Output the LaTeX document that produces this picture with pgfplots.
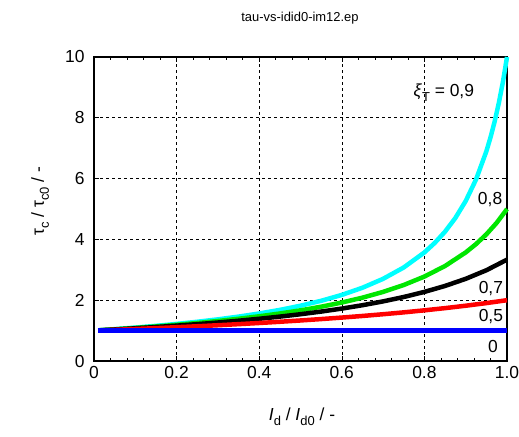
\documentclass[border=0pt]{standalone}
\usepackage{pgfplots}
\pgfplotsset{compat=1.18}
\usepackage{fontspec}
\setmainfont{Liberation Sans}
\definecolor{cy}{RGB}{0,255,255}
\definecolor{gr}{RGB}{0,230,0}
\definecolor{rd}{RGB}{255,0,0}
\definecolor{bl}{RGB}{0,0,255}
\newcommand\sub[1]{\raisebox{-5bp}{\fontsize{13}{13}\selectfont #1}}
\begin{document}
\begin{tikzpicture}[x=1bp,y=1bp]
\begin{axis}[
  at={(0,0)}, anchor=south west,
  scale only axis, width=413bp, height=304bp,
  xmin=0, xmax=1, ymin=0, ymax=10,
  xtick={0,0.2,0.4,0.6,0.8,1.0},
  xticklabels={0,0.2,0.4,0.6,0.8,1.0},
  ytick={0,2,4,6,8,10},
  minor x tick num=4,
  tick align=inside,
  major tick length=5bp, minor tick length=3bp,
  xtick pos=both, ytick pos=both,
  grid=major,
  major grid style={black, dash pattern=on 3bp off 3bp, line width=0.6bp},
  axis line style={line width=1.3bp},
  tick style={black, line width=0.6bp},
  /pgf/number format/assume math mode=true,
  tick label style={font=\fontsize{17.5}{19}\selectfont},
  xticklabel style={yshift=-2bp},
  yticklabel style={xshift=-6bp},
  clip=false,
]
\addplot[cy, line width=4.5bp] coordinates {
(0.01,1.00908)(0.05,1.04712)(0.1,1.0989)(0.15,1.15607)(0.2,1.21951)(0.25,1.29032)(0.3,1.36986)(0.35,1.45985)(0.4,1.5625)(0.45,1.68067)(0.5,1.81818)(0.55,1.9802)(0.6,2.17391)(0.65,2.40964)(0.7,2.7027)(0.75,3.07692)(0.8,3.57143)(0.825,3.8835)(0.85,4.25532)(0.875,4.70588)(0.9,5.26316)(0.925,5.97015)(0.95,6.89655)(0.96,7.35294)(0.97,7.87402)(0.98,8.47458)(0.99,9.17431)(1.0,10)};
\addplot[gr, line width=4.5bp] coordinates {
(0.01,1.00806)(0.05,1.04167)(0.1,1.08696)(0.15,1.13636)(0.2,1.19048)(0.25,1.25)(0.3,1.31579)(0.35,1.38889)(0.4,1.47059)(0.45,1.5625)(0.5,1.66667)(0.55,1.78571)(0.6,1.92308)(0.65,2.08333)(0.7,2.27273)(0.75,2.5)(0.8,2.77778)(0.85,3.125)(0.9,3.57143)(0.925,3.84615)(0.95,4.16667)(0.975,4.54545)(1.0,5)};
\addplot[black, line width=4.5bp] coordinates {
(0.01,1.00705)(0.05,1.03627)(0.1,1.07527)(0.15,1.11732)(0.2,1.16279)(0.25,1.21212)(0.3,1.26582)(0.35,1.3245)(0.4,1.38889)(0.45,1.45985)(0.5,1.53846)(0.55,1.62602)(0.6,1.72414)(0.65,1.83486)(0.7,1.96078)(0.75,2.10526)(0.8,2.27273)(0.85,2.46914)(0.9,2.7027)(0.95,2.98507)(1.0,3.33333)};
\addplot[rd, line width=4.5bp] coordinates {
(0.01,1.00503)(0.05,1.02564)(0.1,1.05263)(0.15,1.08108)(0.2,1.11111)(0.25,1.14286)(0.3,1.17647)(0.35,1.21212)(0.4,1.25)(0.45,1.29032)(0.5,1.33333)(0.55,1.37931)(0.6,1.42857)(0.65,1.48148)(0.7,1.53846)(0.75,1.6)(0.8,1.66667)(0.85,1.73913)(0.9,1.81818)(0.95,1.90476)(1.0,2)};
\addplot[bl, line width=4.5bp] coordinates {(0.01,1)(0.5,1)(1.0,1)};
\node[font=\fontsize{17.5}{19}\selectfont] at (axis cs:0.847,8.82) {\textit{ξ}\sub{T} = 0,9};
\node[font=\fontsize{17.5}{19}\selectfont] at (axis cs:0.959,5.30) {0,8};
\node[font=\fontsize{17.5}{19}\selectfont] at (axis cs:0.961,2.40) {0,7};
\node[font=\fontsize{17.5}{19}\selectfont] at (axis cs:0.961,1.45) {0,5};
\node[font=\fontsize{17.5}{19}\selectfont] at (axis cs:0.966,0.49) {0};
\end{axis}
\node[font=\fontsize{13}{15}\selectfont] at (206,343) {tau-vs-idid0-im12.ep};
\node[font=\fontsize{17.5}{19}\selectfont] at (208,-56) {\textit{I}\sub{d} / \textit{I}\sub{d0} / -};
\node[font=\fontsize{17.5}{19}\selectfont, rotate=90] at (-54,160) {τ\sub{c} / τ\sub{c0} / -};
\pgfresetboundingbox
\path[use as bounding box] (-94,-76) rectangle (425,361);
\end{tikzpicture}
\end{document}
